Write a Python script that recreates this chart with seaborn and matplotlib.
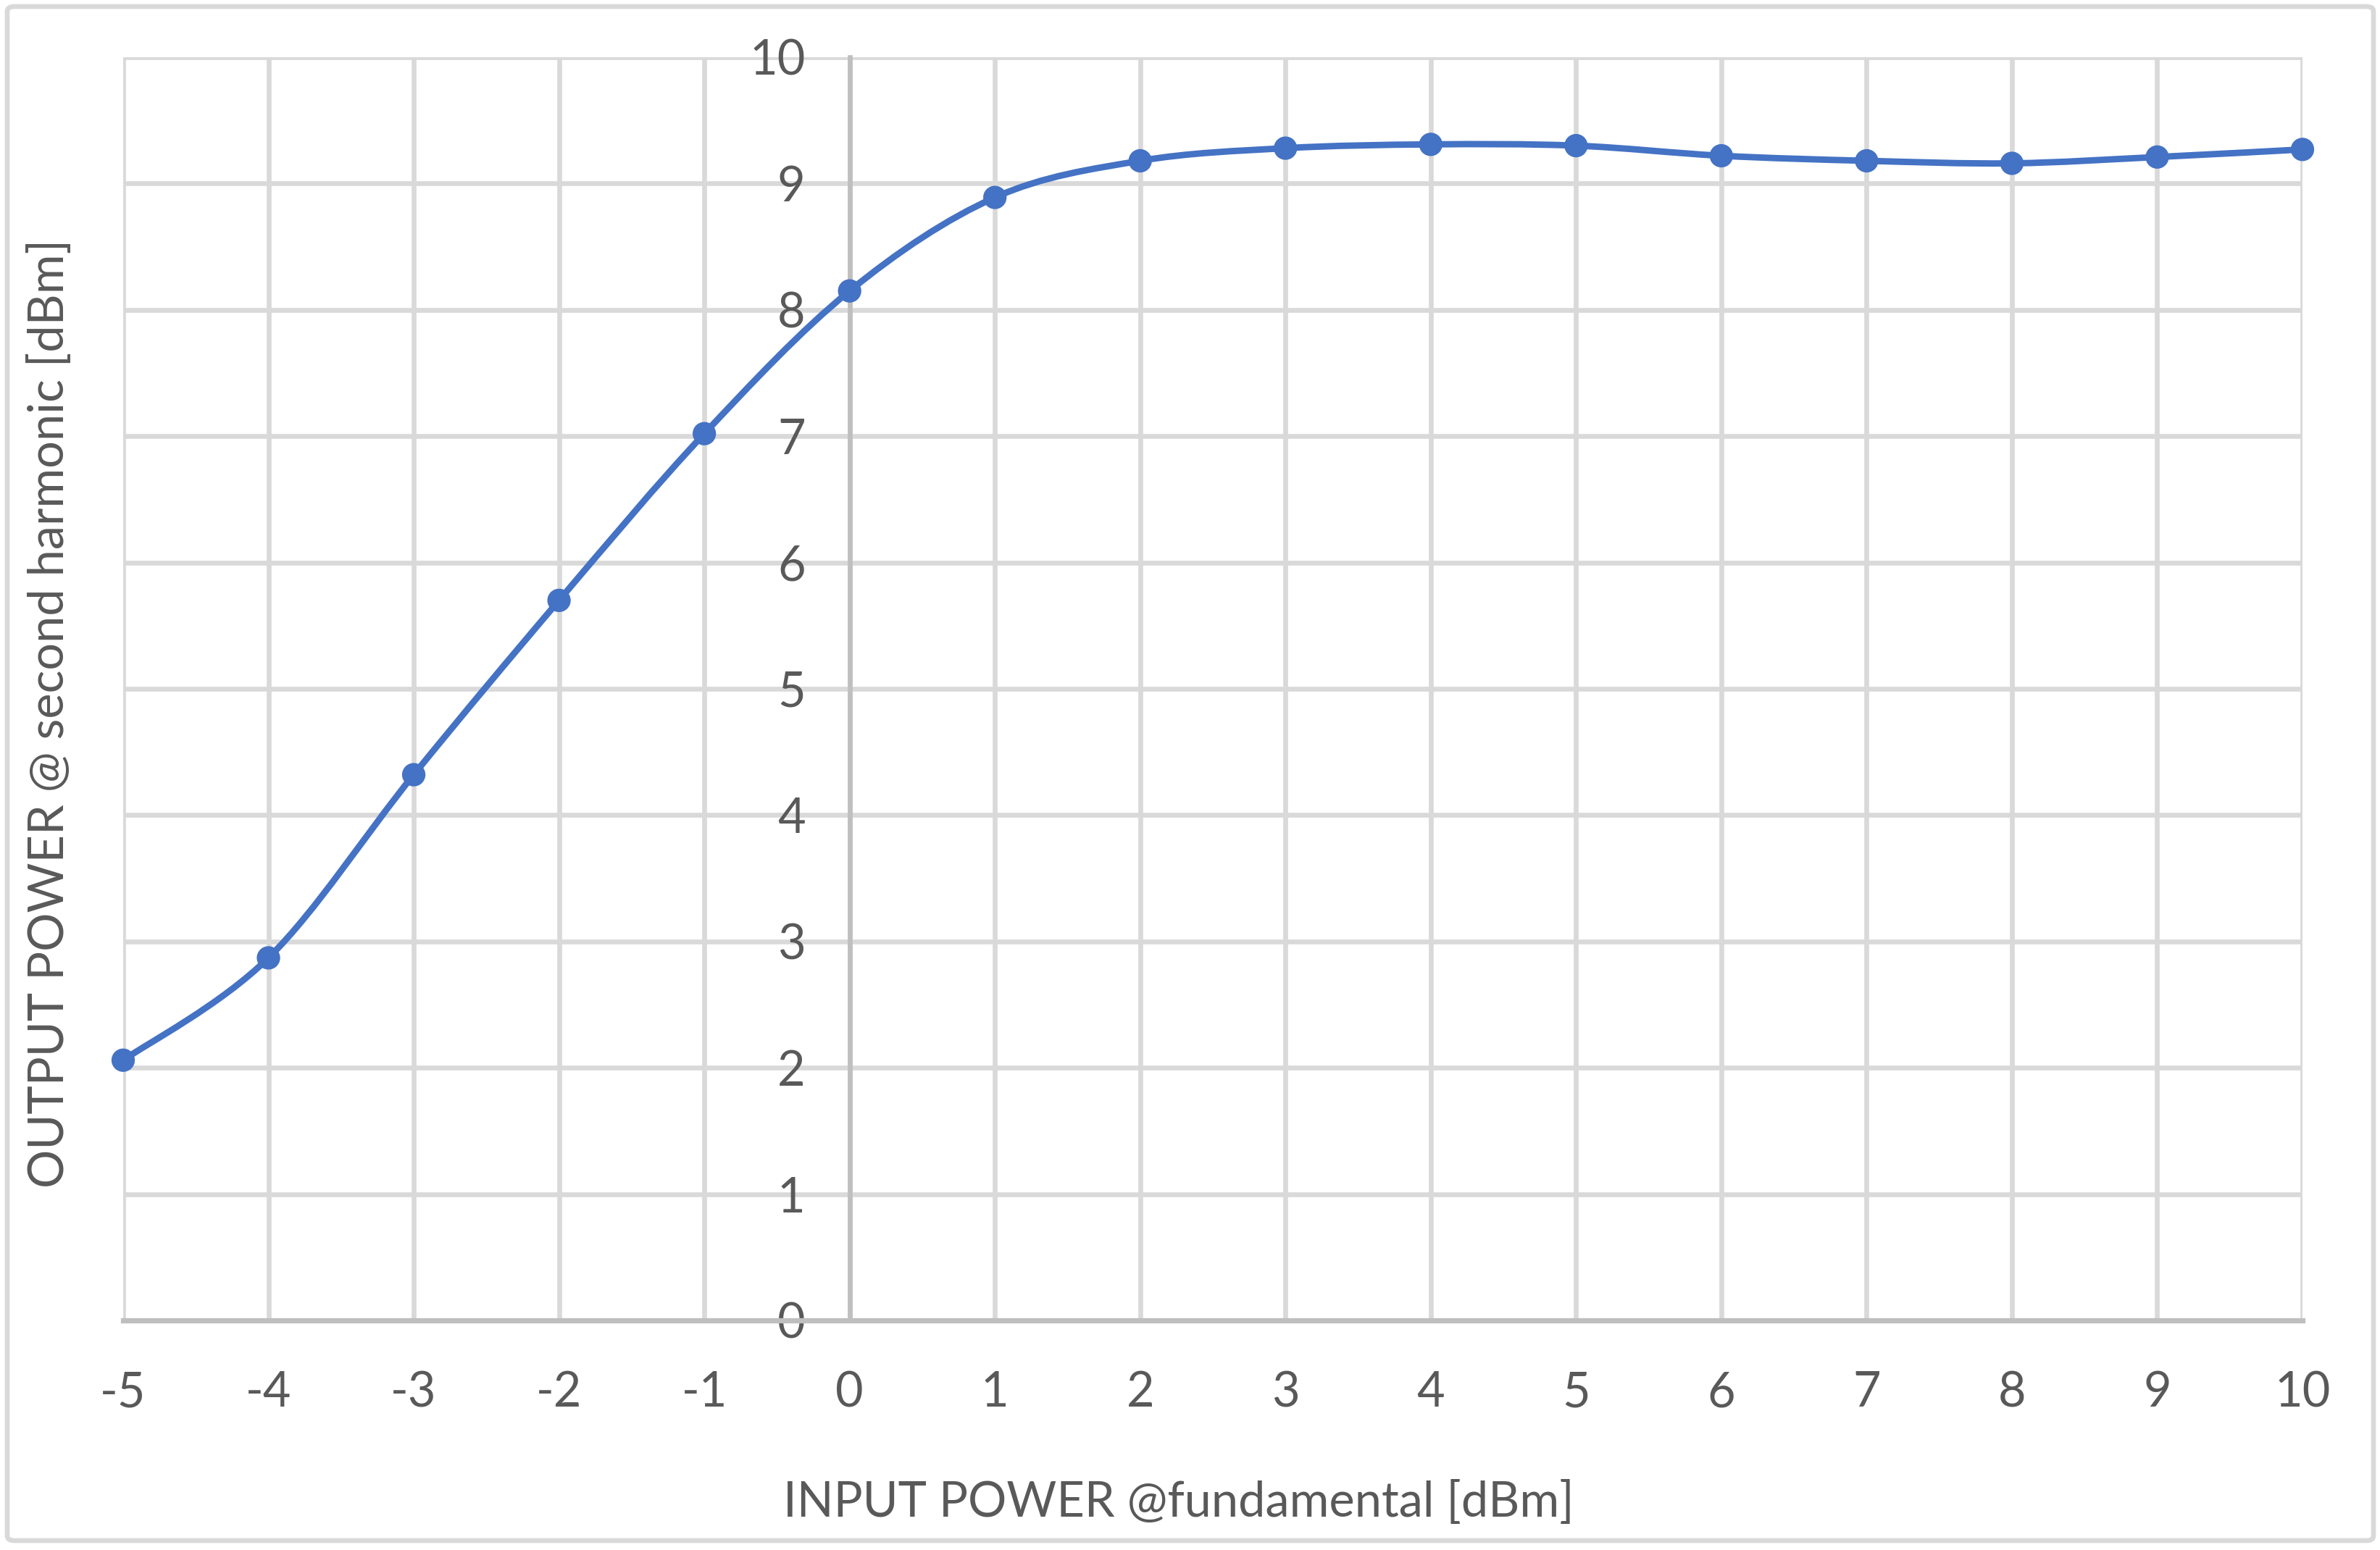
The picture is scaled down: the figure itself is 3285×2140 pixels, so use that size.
import numpy as np
import pandas as pd
import seaborn as sns
import matplotlib
matplotlib.use("Agg")
import matplotlib.pyplot as plt
from matplotlib.path import Path
from matplotlib.patches import PathPatch, FancyBboxPatch

# ---- data ----
input_power = [-5, -4, -3, -2, -1, 0, 1, 2, 3, 4, 5, 6, 7, 8, 9, 10]
output_power = [2.06, 2.87, 4.32, 5.70, 7.02, 8.15, 8.89, 9.18, 9.28, 9.31,
                9.30, 9.22, 9.18, 9.16, 9.21, 9.27]
x_ticks = list(range(-5, 11))
y_ticks = list(range(0, 11))
x_label = "INPUT POWER @fundamental [dBm]"
y_label = "OUTPUT POWER @ second harmonic [dBm]"

BLUE = "#4472C4"
GRID = "#d9d9d9"
AXIS = "#bfbfbf"
TEXT = "#595959"

sns.set_theme(style="white")
plt.rcParams["font.family"] = ["Lato", "DejaVu Sans"]

W, H = 3285, 2140
DPI = 200
fig = plt.figure(figsize=(W / DPI, H / DPI), dpi=DPI)
fig.patch.set_facecolor("white")

L, R, T, B = 170, 3178, 79, 1823
ax = fig.add_axes([L / W, 1 - B / H, (R - L) / W, (B - T) / H])

df = pd.DataFrame({"x": input_power, "y": output_power})

# smoothed line (Excel-style Bezier through the data points)
pts = df[["x", "y"]].to_numpy(dtype=float)
n = len(pts)
verts = [pts[0]]
codes = [Path.MOVETO]
for i in range(n - 1):
    p_prev = pts[i - 1] if i > 0 else pts[i]
    p_next2 = pts[i + 2] if i + 2 < n else pts[i + 1]
    c1 = pts[i] + (pts[i + 1] - p_prev) / 6.0
    c2 = pts[i + 1] - (p_next2 - pts[i]) / 6.0
    verts += [c1, c2, pts[i + 1]]
    codes += [Path.CURVE4] * 3
ax.add_patch(PathPatch(Path(verts, codes), fill=False, edgecolor=BLUE,
                       lw=3.2, capstyle="round", joinstyle="round", zorder=3))

sns.scatterplot(data=df, x="x", y="y", ax=ax, color=BLUE, s=135,
                edgecolor="none", linewidth=0, zorder=4, clip_on=False,
                legend=False)

ax.set_xlim(-5, 10)
ax.set_ylim(0, 10)
ax.set_xticks(x_ticks)
ax.set_yticks(y_ticks)
ax.set_xticklabels([str(v) for v in x_ticks])
ax.set_yticklabels([str(v) for v in y_ticks])
ax.grid(True, color=GRID, lw=2.4, zorder=0)
ax.set_axisbelow(True)

for s in ["top", "right"]:
    ax.spines[s].set_visible(False)
ax.spines["left"].set_position(("data", 0))
ax.spines["left"].set_color(AXIS)
ax.spines["left"].set_linewidth(2.4)
ax.spines["bottom"].set_color(AXIS)
ax.spines["bottom"].set_linewidth(2.6)

ax.tick_params(axis="both", length=0, labelsize=24, colors=TEXT)
ax.tick_params(axis="y", pad=22)
ax.tick_params(axis="x", pad=25)
ax.set_xlabel("")
ax.set_ylabel("")

fig.text(1627 / W, 1 - 2075 / H, x_label, ha="center", va="center",
         fontsize=24, color=TEXT)
fig.text(69 / W, 1 - 985 / H, y_label, ha="center", va="center",
         rotation=90, fontsize=24, color=TEXT)

# outer chart frame
fig.patches.append(FancyBboxPatch((10 / W, 1 - 2127 / H), (3276 - 10) / W,
                                  (2127 - 9) / H,
                                  boxstyle="round,pad=0,rounding_size=0.003",
                                  transform=fig.transFigure, fill=False,
                                  edgecolor=GRID, lw=2.4))

fig.savefig("out.png", dpi=DPI, facecolor="white")
